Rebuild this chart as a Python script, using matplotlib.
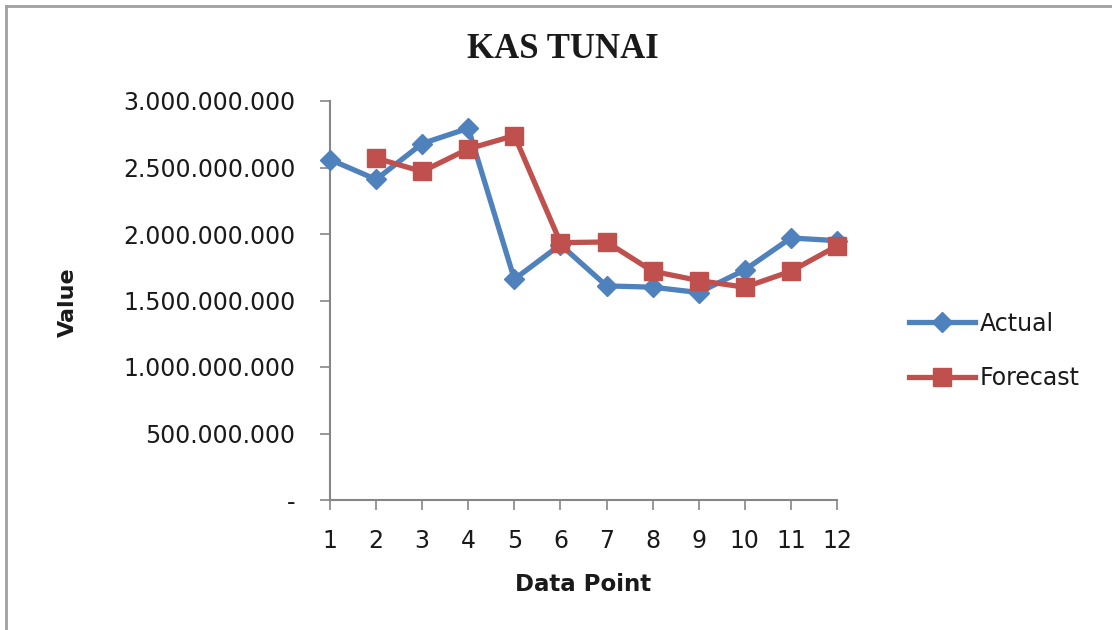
import numpy as np
import matplotlib.pyplot as plt
from matplotlib.lines import Line2D
from matplotlib.ticker import FuncFormatter

# data
points = np.arange(1, 13)
actual = [2.56e9, 2.41e9, 2.68e9, 2.795e9, 1.66e9, 1.92e9,
          1.61e9, 1.60e9, 1.56e9, 1.73e9, 1.97e9, 1.95e9]
forecast_x = np.arange(2, 13)
forecast = [2.57e9, 2.47e9, 2.64e9, 2.74e9, 1.935e9, 1.94e9,
            1.72e9, 1.65e9, 1.60e9, 1.72e9, 1.91e9]
yticks = np.arange(0, 3.5e9, 5e8)

blue = '#4F81BD'
red = '#C0504D'
txt = '#1a1a1a'

fig = plt.figure(figsize=(11.12, 6.3), dpi=100)
ax = fig.add_axes([330/1112, 1 - 500/630, 507/1112, 399/630])

ax.plot(points, actual, color=blue, lw=3.8, marker='D', ms=10,
        mec=blue, mfc=blue, label='Actual', clip_on=False, zorder=3)
ax.plot(forecast_x, forecast, color=red, lw=3.8, marker='s', ms=13.5,
        mec=red, mfc=red, label='Forecast', clip_on=False, zorder=4)

ax.set_xlim(1, 12)
ax.set_ylim(0, 3e9)
ax.set_xticks(points)
ax.set_yticks(yticks)


def fmt(v, pos):
    if v == 0:
        return '-'
    return f'{int(v):,}'.replace(',', '.')


ax.yaxis.set_major_formatter(FuncFormatter(fmt))
ax.tick_params(axis='both', direction='out', length=7, width=1.2,
               color='#868686', labelsize=17, labelcolor=txt)
ax.tick_params(axis='y', pad=18)
ax.tick_params(axis='x', pad=14)
for s in ['top', 'right']:
    ax.spines[s].set_visible(False)
for s in ['left', 'bottom']:
    ax.spines[s].set_color('#868686')
    ax.spines[s].set_linewidth(1.5)

ax.set_xlabel('Data Point', fontsize=16.5, fontweight='bold', color=txt, labelpad=14)
fig.text(68/1112, 1 - 302/630, 'Value', rotation=90, fontsize=16,
         fontweight='bold', color=txt, ha='center', va='center')
fig.text(563/1112, 1 - 49/630, 'KAS TUNAI', fontsize=25, fontweight='bold',
         family='Liberation Serif', color=txt, ha='center', va='center')

handles = [Line2D([], [], color=blue, lw=3.8, marker='D', ms=10),
           Line2D([], [], color=red, lw=3.8, marker='s', ms=13.5)]
fig.legend(handles, ['Actual', 'Forecast'], loc='center left',
           bbox_to_anchor=(888/1112, 1 - 351/630), frameon=False,
           fontsize=17, handlelength=2.8, handletextpad=0.2,
           labelspacing=1.3, labelcolor=txt)

# outer frame (only top and left edges are visible)
fig.add_artist(Line2D([6/1112, 6/1112], [0, 1 - 6/630], color='#a0a0a0',
                      lw=2, transform=fig.transFigure))
fig.add_artist(Line2D([6/1112, 1], [1 - 6/630, 1 - 6/630], color='#a0a0a0',
                      lw=2, transform=fig.transFigure))

fig.savefig('out.png', dpi=100)
